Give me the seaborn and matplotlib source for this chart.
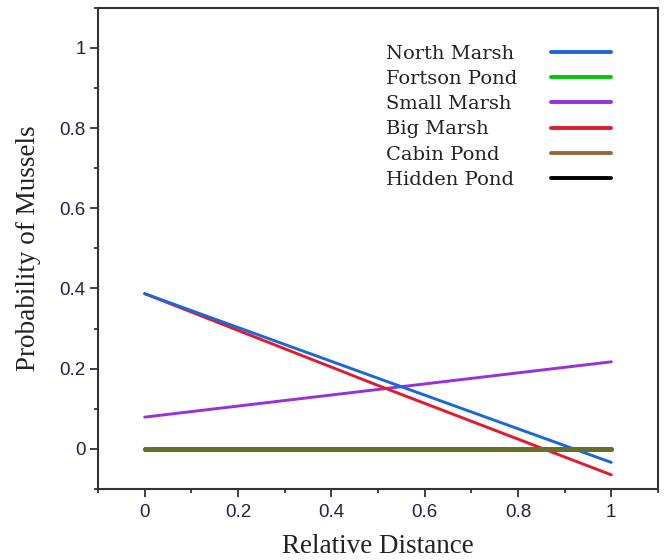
import pandas as pd
import matplotlib.pyplot as plt
from matplotlib.lines import Line2D
from matplotlib.ticker import MultipleLocator
import seaborn as sns

# values
distance = [0.0, 0.5, 1.0]
north_marsh = [0.387, 0.176, -0.034]
fortson_pond = [0.0, 0.0, 0.0]
small_marsh = [0.079, 0.148, 0.217]
big_marsh = [0.387, 0.158, -0.065]
cabin_pond = [0.0, 0.0, 0.0]
hidden_pond = [0.0, 0.0, 0.0]

sites = ["North Marsh", "Fortson Pond", "Small Marsh", "Big Marsh", "Cabin Pond", "Hidden Pond"]
colors = {
    "North Marsh": "#1868dc",
    "Fortson Pond": "#00c800",
    "Small Marsh": "#9a30dc",
    "Big Marsh": "#e41a2a",
    "Cabin Pond": "#99663a",
    "Hidden Pond": "#000000",
}


def main():
    df = pd.concat([
        pd.DataFrame({"x": distance, "p": vals, "site": name})
        for name, vals in zip(sites, [north_marsh, fortson_pond, small_marsh,
                                      big_marsh, cabin_pond, hidden_pond])
    ])

    sns.set_style("ticks")
    plt.rcParams["font.family"] = ["Liberation Sans", "DejaVu Sans"]

    fig = plt.figure(figsize=(6.65, 5.6), dpi=100)
    ax = fig.add_axes([0.1474, 0.127, 0.842, 0.859])

    # line width / alpha per series; the three zero lines overlap into olive
    style = {
        "Small Marsh": (2.1, 1.0),
        "Big Marsh": (2.1, 1.0),
        "North Marsh": (2.1, 1.0),
        "Fortson Pond": (3.6, 1.0),
        "Cabin Pond": (3.6, 0.77),
        "Hidden Pond": (3.6, 0.1),
    }
    for name, (lw, a) in style.items():
        sns.lineplot(data=df[df["site"] == name], x="x", y="p", color=colors[name],
                     linewidth=lw, alpha=a, ax=ax, legend=False,
                     solid_capstyle="round")

    ax.set_xlim(-0.1, 1.1)
    ax.set_ylim(-0.1, 1.1)
    ticks = [0, 0.2, 0.4, 0.6, 0.8, 1]
    labels = ["0", "0.2", "0.4", "0.6", "0.8", "1"]
    ax.set_xticks(ticks)
    ax.set_xticklabels(labels)
    ax.set_yticks(ticks)
    ax.set_yticklabels(labels)
    ax.xaxis.set_minor_locator(MultipleLocator(0.1))
    ax.yaxis.set_minor_locator(MultipleLocator(0.1))
    ax.tick_params(which="major", direction="out", length=6, width=1.3,
                   color="#333333", labelsize=13.5, labelcolor="#222244")
    ax.tick_params(which="minor", direction="out", length=3, width=1.3, color="#333333")
    ax.tick_params(axis="x", which="major", pad=5)
    ax.tick_params(axis="y", which="major", pad=3)

    for sp in ax.spines.values():
        sp.set_color("#333333")
        sp.set_linewidth(1.5)

    ax.set_xlabel("Relative Distance", fontsize=19.5, family="Liberation Serif",
                  color="#222222", labelpad=9)
    ax.set_ylabel("Probability of Mussels", fontsize=19.5, family="Liberation Serif",
                  color="#222222", labelpad=13)

    # legend: names left-aligned, line samples in their own column
    legend_font = {"family": "DejaVu Serif", "size": 14}
    handles = [Line2D([], [], color=colors[s], linewidth=2.8) for s in sites]
    blanks = [Line2D([], [], color="none") for s in sites]
    names = ax.legend(blanks, sites, loc="upper left", bbox_to_anchor=(0.514, 0.923),
                      frameon=False, handlelength=0, handletextpad=0,
                      labelspacing=0.37, borderpad=0, borderaxespad=0,
                      prop=legend_font, labelcolor="#222222")
    ax.add_artist(names)
    ax.legend(handles, [""] * len(sites), loc="upper left", bbox_to_anchor=(0.809, 0.923),
              frameon=False, handlelength=3.1, handletextpad=0,
              labelspacing=0.37, borderpad=0, borderaxespad=0,
              prop=legend_font)

    fig.savefig("out.png", dpi=100)
    plt.close(fig)


if __name__ == "__main__":
    main()
